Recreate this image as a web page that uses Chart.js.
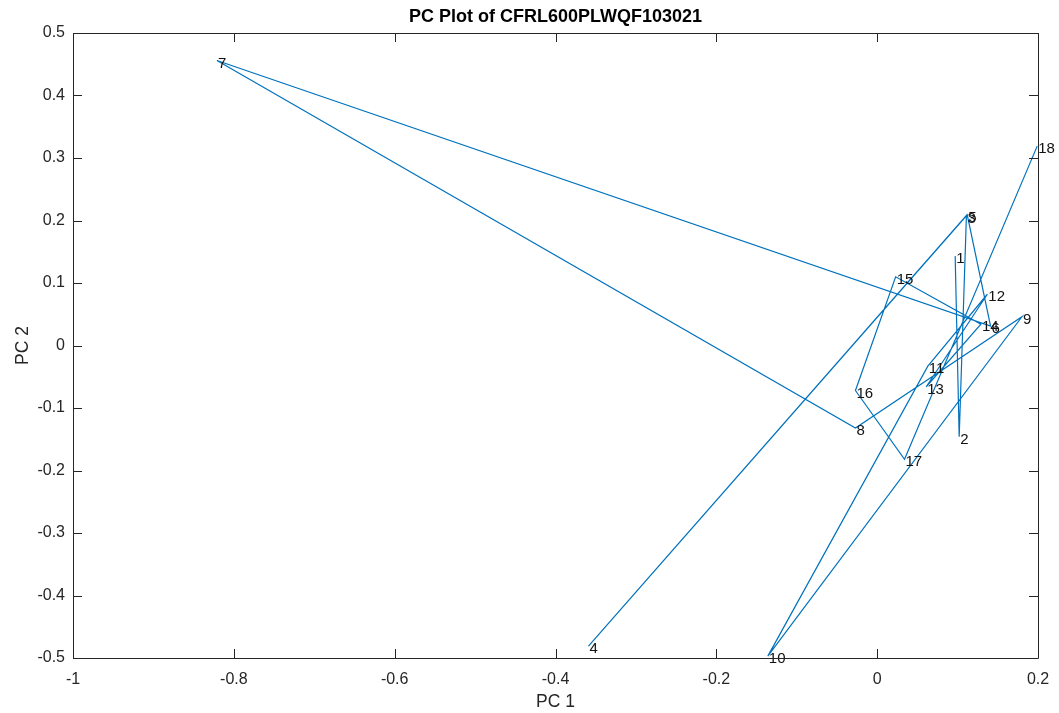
<!DOCTYPE html>
<html>
<head>
<meta charset="utf-8">
<script src="https://cdn.jsdelivr.net/npm/chart.js@4"></script>
<style>
html,body{margin:0;padding:0;background:#fff;}
#wrap{width:1059px;height:713px;position:relative;}
</style>
</head>
<body>
<div id="wrap"><canvas id="c" width="1059" height="713"></canvas></div>
<script>
const titleText = 'PC Plot of CFRL600PLWQF103021';
const xLabel = 'PC 1';
const yLabel = 'PC 2';
const pointLabels = ['1','2','3','4','5','6','7','8','9','10','11','12','13','14','15','16','17','18'];
const pc1 = [0.097, 0.102, 0.111, -0.359, 0.112, 0.141, -0.821, -0.027, 0.180, -0.136, 0.063, 0.137, 0.061, 0.129, 0.023, -0.027, 0.034, 0.199];
const pc2 = [0.143, -0.146, 0.208, -0.481, 0.209, 0.031, 0.456, -0.132, 0.046, -0.497, -0.033, 0.082, -0.066, 0.034, 0.110, -0.072, -0.182, 0.319];
const xTicks = [-1, -0.8, -0.6, -0.4, -0.2, 0, 0.2];
const yTicks = [-0.5, -0.4, -0.3, -0.2, -0.1, 0, 0.1, 0.2, 0.3, 0.4, 0.5];

const FONT = "'Liberation Sans', Arial, Helvetica, sans-serif";
const AXC = '#262626';

const points = pc1.map((x, i) => ({x: x, y: pc2[i]}));
const fmt = v => String(parseFloat(Number(v).toFixed(3)));

const matlabPlugin = {
  id: 'matlab',
  afterDatasetsDraw(chart) {
    const ctx = chart.ctx;
    const xs = chart.scales.x, ys = chart.scales.y;
    const a = chart.chartArea;
    ctx.save();
    ctx.font = '15px ' + FONT;
    ctx.fillStyle = '#111';
    ctx.textAlign = 'left';
    ctx.textBaseline = 'middle';
    points.forEach((p, i) => {
      ctx.fillText(pointLabels[i], xs.getPixelForValue(p.x) + 1, ys.getPixelForValue(p.y) + 3);
    });
    ctx.restore();
    ctx.save();
    ctx.strokeStyle = AXC;
    ctx.lineWidth = 1;
    ctx.beginPath();
    ctx.rect(Math.round(a.left) + 0.5, Math.round(a.top) + 0.5, Math.round(a.right - a.left), Math.round(a.bottom - a.top));
    const tl = 9;
    xTicks.forEach(v => {
      const px = Math.round(xs.getPixelForValue(v)) + 0.5;
      ctx.moveTo(px, a.bottom); ctx.lineTo(px, a.bottom - tl);
      ctx.moveTo(px, a.top); ctx.lineTo(px, a.top + tl);
    });
    yTicks.forEach(v => {
      const py = Math.round(ys.getPixelForValue(v)) + 0.5;
      ctx.moveTo(a.left, py); ctx.lineTo(a.left + tl, py);
      ctx.moveTo(a.right, py); ctx.lineTo(a.right - tl, py);
    });
    ctx.stroke();
    ctx.font = 'bold 18px ' + FONT;
    ctx.fillStyle = '#000';
    ctx.textAlign = 'center';
    ctx.textBaseline = 'middle';
    ctx.fillText(titleText, (a.left + a.right) / 2, 17);
    ctx.restore();
  }
};

new Chart(document.getElementById('c'), {
  type: 'scatter',
  data: {
    datasets: [{
      data: points,
      showLine: true,
      borderColor: '#0072BD',
      backgroundColor: '#0072BD',
      borderWidth: 1.2,
      pointRadius: 0,
      tension: 0
    }]
  },
  options: {
    responsive: false,
    animation: false,
    layout: {padding: {left: 0, right: 21, top: 33, bottom: 0}},
    plugins: {legend: {display: false}, tooltip: {enabled: false}, title: {display: false}},
    scales: {
      x: {
        type: 'linear', min: -1, max: 0.2,
        afterBuildTicks: s => { s.ticks = xTicks.map(v => ({value: v})); },
        afterFit: s => { s.height = 55; s.paddingLeft = 0; s.paddingRight = 0; },
        grid: {display: false, drawTicks: false},
        border: {display: false},
        ticks: {color: AXC, font: {family: FONT, size: 16}, padding: 12, maxRotation: 0, autoSkip: false, callback: v => fmt(v)},
        title: {display: true, text: xLabel, color: AXC, font: {family: FONT, size: 17.5}, padding: {top: 4, bottom: 0}}
      },
      y: {
        type: 'linear', min: -0.5, max: 0.5,
        afterBuildTicks: s => { s.ticks = yTicks.map(v => ({value: v})); },
        afterFit: s => { s.width = 73; s.paddingTop = 0; s.paddingBottom = 0; },
        grid: {display: false, drawTicks: false},
        border: {display: false},
        ticks: {color: AXC, font: {family: FONT, size: 16}, padding: 8, autoSkip: false, callback: v => fmt(v)},
        title: {display: true, text: yLabel, color: AXC, font: {family: FONT, size: 17.5}, padding: {top: 13, bottom: 4}}
      }
    }
  },
  plugins: [matlabPlugin]
});
</script>
</body>
</html>
